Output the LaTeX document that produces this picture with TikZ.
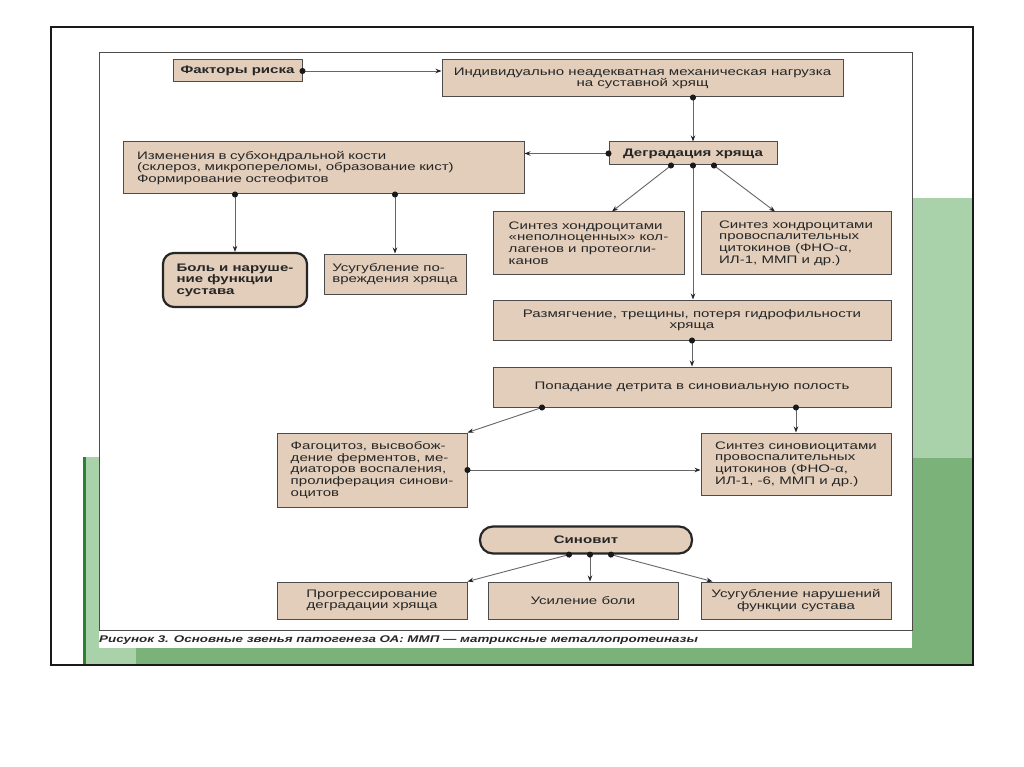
\documentclass[tikz,border=0pt]{standalone}
\usepackage{fontspec}
\setmainfont[FakeStretch=1.38]{Liberation Sans}
\usetikzlibrary{arrows.meta,calc,positioning}

\definecolor{boxtan}{RGB}{226,206,186}
\definecolor{palegreen}{RGB}{170,210,170}
\definecolor{midgreen}{RGB}{122,178,122}
\definecolor{darkgreen}{RGB}{40,130,50}

\tikzset{
  box/.style={draw=black!70, line width=1pt, fill=boxtan, inner sep=0pt,
    text=black!85, font=\fontsize{10.9}{11.6}\selectfont, align=center},
  keybox/.style={box, line width=2.2pt, draw=black!85, rounded corners=11pt,
    font=\fontsize{10.9}{11.6}\selectfont\bfseries},
  con/.style={draw=black!60, line width=0.9pt, shorten <=-3pt,
    {Circle[length=6pt,color=black!90]}-{Stealth[length=6pt,width=4.5pt,color=black!85]}},
}

\begin{document}
\begin{tikzpicture}[x=1pt,y=-1pt]
\useasboundingbox[fill=white] (0,0) rectangle (1024,767);

% green page background
\fill[palegreen] (912,198) rectangle (972,458);
\fill[midgreen] (912,458) rectangle (972,665);
\fill[midgreen] (83,648) rectangle (972,665);
\fill[palegreen] (83,457) rectangle (99,665);
\fill[palegreen] (83,648) rectangle (136,665);
\fill[darkgreen] (83,457) rectangle (86,665);

% figure area
\fill[white] (99,52) rectangle (912,648);
\draw[black!70, line width=0.8pt] (99,52) rectangle (912,630);

% boxes
\node[box, font=\fontsize{10.9}{11.6}\selectfont\bfseries, minimum width=129pt, minimum height=22pt] (risk) at (237.5,71) {Факторы риска};
\node[box, minimum width=401pt, minimum height=37pt] (load) at (642.5,78.5) {Индивидуально неадекватная механическая нагрузка\\на суставной хрящ};
\node[box, font=\fontsize{10.9}{11.6}\selectfont\bfseries, minimum width=168pt, minimum height=23pt] (degr) at (693,153.5) {Деградация хряща};
\node[box, align=left, text width=373pt, inner xsep=14pt, minimum height=52pt] (sub) at (323.5,168) {Изменения в субхондральной кости\\(склероз, микропереломы, образование кист)\\Формирование остеофитов};
\node[keybox, align=left, minimum width=144pt, minimum height=54pt] (pain) at (235,280) {Боль и наруше-\\ние функции\\сустава};
\node[box, align=left, minimum width=142pt, minimum height=40pt] (worse) at (395,274) {Усугубление по-\\вреждения хряща};
\node[box, align=left, minimum width=191pt, minimum height=62pt] (syn1) at (588.5,243) {Синтез хондроцитами\\«неполноценных» кол-\\лагенов и протеогли-\\канов};
\node[box, align=left, minimum width=190pt, minimum height=62pt] (syn2) at (796,243) {Синтез хондроцитами\\провоспалительных\\цитокинов (ФНО-α,\\ИЛ-1, ММП и др.)};
\node[box, minimum width=398pt, minimum height=40pt] (soft) at (692,320) {Размягчение, трещины, потеря гидрофильности\\хряща};
\node[box, minimum width=398pt, minimum height=40pt] (detr) at (692,387) {Попадание детрита в синовиальную полость};
\node[box, align=left, minimum width=190pt, minimum height=74pt] (fag) at (372,470) {Фагоцитоз, высвобож-\\дение ферментов, ме-\\диаторов воспаления,\\пролиферация синови-\\оцитов};
\node[box, align=left, minimum width=190pt, minimum height=62pt] (syn3) at (796,464) {Синтез синовиоцитами\\провоспалительных\\цитокинов (ФНО-α,\\ИЛ-1, -6, ММП и др.)};
\node[keybox, rounded corners=13pt, minimum width=212pt, minimum height=27pt] (synov) at (586,540) {Синовит};
\node[box, minimum width=190pt, minimum height=37pt] (prog) at (372,600.5) {Прогрессирование\\деградации хряща};
\node[box, minimum width=190pt, minimum height=37pt] (boli) at (583,600.5) {Усиление боли};
\node[box, minimum width=190pt, minimum height=37pt] (worse2) at (796,600.5) {Усугубление нарушений\\функции сустава};

% caption
\node[anchor=west, inner sep=0pt, text=black!85, font=\fontsize{9.7}{12}\selectfont\bfseries\itshape] (cap) at (99,640) {Рисунок 3. Основные звенья патогенеза ОА: ММП — матриксные металлопротеиназы};

% connectors
\draw[con] (risk.east) -- (risk.east -| load.west);
\draw[con] (degr.north |- load.south) -- (degr.north);
\draw[con] (degr.west) -- (degr.west -| sub.east);
\draw[con] (pain.north |- sub.south) -- (pain.north);
\draw[con] (worse.north |- sub.south) -- (worse.north);
\draw[con] ([xshift=-22pt]degr.south) -- ([xshift=23.5pt]syn1.north);
\draw[con] (degr.south) -- (degr.south |- soft.north);
\draw[con] ([xshift=21pt]degr.south) -- ([xshift=-21pt]syn2.north);
\draw[con] (soft.south) -- (detr.north);
\draw[con] ([xshift=-150pt]detr.south) -- (fag.north east);
\draw[con] (syn3.north |- detr.south) -- (syn3.north);
\draw[con] (fag.east) -- (fag.east -| syn3.west);

\coordinate (s1) at ([xshift=-17pt]synov.south);
\coordinate (s2) at ([xshift=4pt]synov.south);
\coordinate (s3) at ([xshift=25pt]synov.south);
\draw[con] (s1) -- (prog.north east);
\draw[con] (s2) -- (s2 |- boli.north);
\draw[con] (s3) -- ([xshift=12pt]worse2.north west);

% frame
\draw[black!90, line width=1.2pt] (51,27) rectangle (973,665);
\end{tikzpicture}
\end{document}
